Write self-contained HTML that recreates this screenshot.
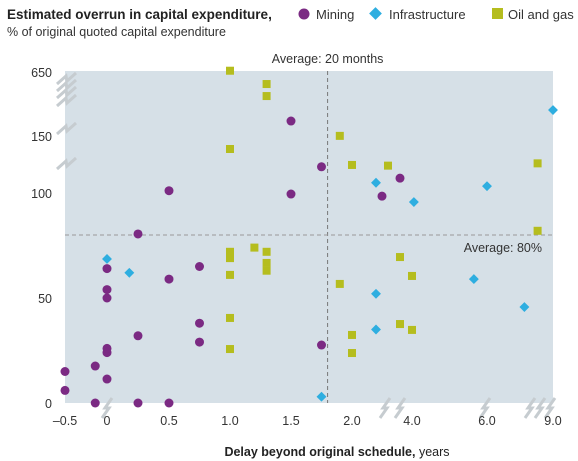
<!DOCTYPE html>
<html><head><meta charset="utf-8"><style>
body{margin:0;background:#fff;font-family:"Liberation Sans",sans-serif;}
svg{display:block}
</style></head><body>
<svg id="chart" width="578" height="461" xmlns="http://www.w3.org/2000/svg">
<text x="7" y="19" font-size="13.5" font-weight="bold" fill="#222">Estimated overrun in capital expenditure,</text>
<text x="7" y="36" font-size="12.5" fill="#333">% of original quoted capital expenditure</text>
<g>
<circle cx="304" cy="14" r="5.5" fill="#7b2a83"/>
<text x="316" y="19" font-size="13" fill="#333">Mining</text>
<rect x="371" y="9" width="9" height="9" fill="#2eaee0" transform="rotate(45 375.5 13.5)"/>
<text x="389" y="19" font-size="13" fill="#333">Infrastructure</text>
<rect x="492" y="8" width="11" height="11" fill="#b5bd1e"/>
<text x="508" y="19" font-size="13" fill="#333">Oil and gas</text>
</g>
<rect x="65" y="71" width="488" height="332" fill="#d6e0e7"/>
<g id="breaks"></g>
<g id="axes"></g>
<g id="marks"></g>
<text x="337" y="456" font-size="12.5" text-anchor="middle" fill="#222"><tspan font-weight="bold">Delay beyond original schedule,</tspan> years</text>
</svg>
<script>
const xTickValues=[-0.5,0,0.5,1.0,1.5,2.0,4.0,6.0,9.0];
const xTickLabels=["\u20130.5","0","0.5","1.0","1.5","2.0","4.0","6.0","9.0"];
const yTickValues=[0,50,100,150,650];
const yTickLabels=["0","50","100","150","650"];
const avgX=1.8, avgY=80;
const miningX=[-0.5,-0.5,-0.14,-0.14,0,0,0,0,0,0,0.25,0.25,0.25,0.5,0.5,0.75,0.75,0.75,0.5,1.5,1.5,1.75,3.6,3.0,1.75];
const miningY=[15,6,17.6,0,11.4,24,26,50,54,64,32,0,80.5,59,0,65,38,29,102,267,99.5,123,113,98.5,27.6];
const infraX=[0,0.18,9.0,2.8,4.05,6.0,5.65,7.7,2.8,2.8,1.75];
const infraY=[68.6,62,353,109,95.7,106,59,45.7,52,35,3];
const oilX=[1.0,1.3,1.3,1.0,1.9,2.0,3.2,8.3,8.3,1.0,1.0,1.2,1.3,1.3,1.3,1.0,1.0,1.0,3.6,4.0,1.9,3.6,4.0,2.0,2.0];
const oilY=[660,556,462,138.6,151,124.6,124,126,82,72,69,74,72,66.7,63,61,40.5,25.7,69.5,60.5,56.7,37.6,34.8,32.4,23.8];

const xKnotV=[-0.5,0,0.5,1,1.5,2,4,6,9], xKnotP=[65,107,169,230,291,352,412,487,553];
const yKnotV=[0,100,150,650], yKnotP=[403,193,136,72];
function pw(v,kv,kp){
  if(v<=kv[0]) return kp[0]+(v-kv[0])*(kp[1]-kp[0])/(kv[1]-kv[0]);
  for(let i=1;i<kv.length;i++){ if(v<=kv[i]) return kp[i-1]+(v-kv[i-1])*(kp[i]-kp[i-1])/(kv[i]-kv[i-1]); }
  const n=kv.length-1; return kp[n]+(v-kv[n])*(kp[n]-kp[n-1])/(kv[n]-kv[n-1]);
}
const xs=v=>pw(v,xKnotV,xKnotP), ys=v=>pw(v,yKnotV,yKnotP);
const NS="http://www.w3.org/2000/svg";
function mk(tag,attrs,parent){const e=document.createElementNS(NS,tag);for(const k in attrs)e.setAttribute(k,attrs[k]);parent.appendChild(e);return e;}
const axes=document.getElementById('axes'), marks=document.getElementById('marks'), brk=document.getElementById('breaks');

xTickValues.forEach((v,i)=>{
  const t=mk('text',{x:xs(v),y:425,'font-size':12.5,'text-anchor':'middle',fill:'#333'},axes);
  
  
  t.textContent=xTickLabels[i];
});
yTickValues.forEach((v,i)=>{
  const t=mk('text',{x:52,y:ys(v)+5,'font-size':12.5,'text-anchor':'end',fill:'#333'},axes);
  
  
  t.textContent=yTickLabels[i];
});
function zig(x,y,vert){
  const d=vert?`M${x-9},${y+6} L${x},${y-2} L${x+1},${y+3} L${x+10},${y-5}`:`M${x-5},${y+10} L${x+2},${y} L${x-2},${y} L${x+5},${y-10}`;
  const p=mk('path',{d:d,fill:'none',stroke:'#c6ccd0','stroke-width':3},brk);
  
  
}
[78,85,92,100,128,163].forEach(y=>zig(66,y,true));
[107,385,400,485,530,540,550].forEach(x=>zig(x,408,false));

const vl=mk('line',{x1:xs(avgX),x2:xs(avgX),y1:71,y2:403,stroke:'#777','stroke-dasharray':'4,3','stroke-width':1},axes);


const hl=mk('line',{x1:65,x2:553,y1:ys(avgY),y2:ys(avgY),stroke:'#999','stroke-dasharray':'4,3','stroke-width':1},axes);


const a1=mk('text',{x:xs(avgX),y:63,'font-size':12.5,'text-anchor':'middle',fill:'#333'},axes);


a1.textContent='Average: 20 months';
const a2=mk('text',{x:542,y:ys(avgY)+17,'font-size':12.5,'text-anchor':'end',fill:'#333'},axes);


a2.textContent='Average: 80%';

miningX.forEach((v,i)=>{
  const c=mk('circle',{cx:xs(v),cy:ys(miningY[i]),r:4.5,fill:'#7b2a83'},marks);
  
  
});
infraX.forEach((v,i)=>{
  const x=xs(v),y=ys(infraY[i]);
  const r=mk('rect',{x:x-3.5,y:y-3.5,width:7,height:7,fill:'#2eaee0',transform:`rotate(45 ${x} ${y})`},marks);
  
  
});
oilX.forEach((v,i)=>{
  const x=xs(v),y=ys(oilY[i]);
  const r=mk('rect',{x:x-4,y:y-4,width:8,height:8,fill:'#b5bd1e'},marks);
  
  
});
</script>
</body></html>
